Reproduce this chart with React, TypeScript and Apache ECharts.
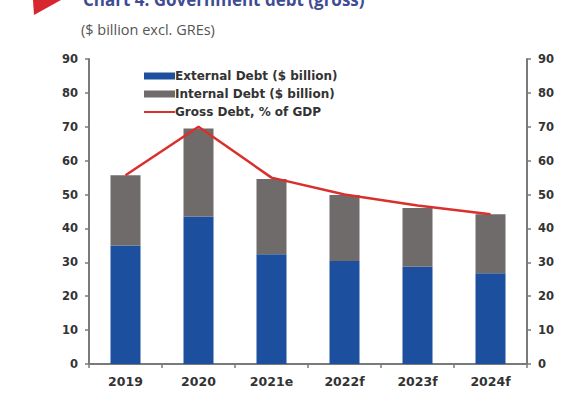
import React, { useEffect, useRef } from "react";
import * as echarts from "echarts";

const categories = ["2019", "2020", "2021e", "2022f", "2023f", "2024f"];
const externalDebt = [35.0, 43.5, 32.4, 30.4, 28.7, 26.8];
const internalDebt = [20.7, 26.0, 22.2, 19.5, 17.3, 17.4];
const grossDebtPctGdp = [55.7, 70.0, 55.0, 50.0, 46.8, 44.2];
const axisMin = 0;
const axisMax = 90;
const axisInterval = 10;

export default function App() {
  const ref = useRef<HTMLDivElement>(null);
  useEffect(() => {
    if (!ref.current) return;
    const chart = echarts.init(ref.current, null, { renderer: "svg" });
    const axisLabel = { color: "#333", fontSize: 11.5, fontWeight: "bold" as const, fontFamily: "DejaVu Sans" };
    const axisLine = { show: true, lineStyle: { color: "#7a7a7a", width: 2 } };
    const axisTick = { show: true, length: 4, lineStyle: { color: "#7a7a7a", width: 1.5 } };
    chart.setOption({
      animation: false,
      backgroundColor: "#fff",
      graphic: [
        { type: "polygon", shape: { points: [[33, 0], [61, 0], [34, 15]] }, style: { fill: "#d7262e" } },
        {
          type: "text",
          left: 83,
          top: -9,
          style: { text: "Chart 4: Government debt (gross)", fill: "#3f4b93", font: "bold 17px 'Open Sans'" },
        },
        {
          type: "text",
          left: 81,
          top: 22,
          style: { text: "($ billion excl. GREs)", fill: "#555", font: "14.5px 'Open Sans'" },
        },
      ],
      legend: {
        orient: "vertical",
        left: 138,
        top: 65,
        itemWidth: 31,
        itemHeight: 7,
        itemGap: 6,
        textStyle: { color: "#333", fontSize: 12, fontWeight: "bold", fontFamily: "DejaVu Sans", padding: [0, 0, 0, -5] },
        data: [
          { name: "External Debt ($ billion)", icon: "rect" },
          { name: "Internal Debt ($ billion)", icon: "rect" },
          { name: "Gross Debt, % of GDP", itemStyle: { opacity: 0 } },
        ],
      },
      grid: { left: 89, right: 49, top: 59, bottom: 32, containLabel: false },
      xAxis: {
        type: "category",
        data: categories,
        axisLine,
        axisTick,
        axisLabel: { ...axisLabel, fontSize: 12.5, margin: 11 },
      },
      yAxis: [
        {
          type: "value",
          min: axisMin,
          max: axisMax,
          interval: axisInterval,
          axisLine,
          axisTick,
          axisLabel: { ...axisLabel, margin: 11 },
          splitLine: { show: false },
        },
        {
          type: "value",
          position: "right",
          min: axisMin,
          max: axisMax,
          interval: axisInterval,
          axisLine,
          axisTick,
          axisLabel: { ...axisLabel, margin: 11 },
          splitLine: { show: false },
        },
      ],
      series: [
        {
          name: "External Debt ($ billion)",
          type: "bar",
          stack: "debt",
          data: externalDebt,
          barWidth: 30,
          itemStyle: { color: "#1c4f9e" },
        },
        {
          name: "Internal Debt ($ billion)",
          type: "bar",
          stack: "debt",
          data: internalDebt,
          barWidth: 30,
          itemStyle: { color: "#6f6b6b" },
        },
        {
          name: "Gross Debt, % of GDP",
          type: "line",
          yAxisIndex: 1,
          data: grossDebtPctGdp,
          symbol: "none",
          lineStyle: { color: "#d9302c", width: 2.5 },
          itemStyle: { color: "#d9302c" },
          z: 5,
        },
      ],
    });
    return () => chart.dispose();
  }, []);
  return <div ref={ref} style={{ position: "fixed", left: 0, top: 0, width: 576, height: 396 }} />;
}
